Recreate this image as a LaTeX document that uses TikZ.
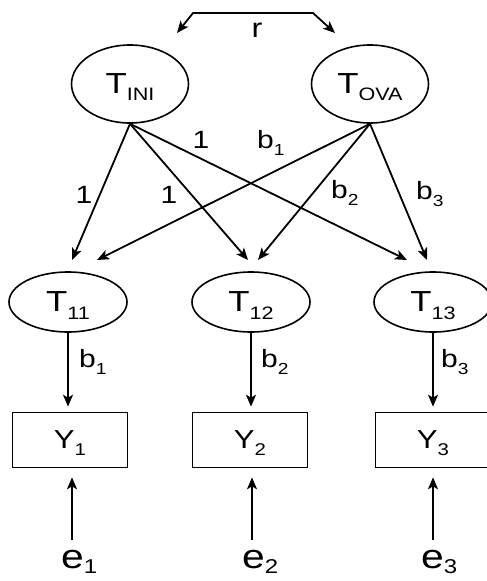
\documentclass[tikz,border=0pt]{standalone}
\usepackage{fontspec}
\setmainfont[FakeStretch=1.2]{Liberation Sans}
\usetikzlibrary{shapes.geometric,arrows.meta}
\newcommand\lowsub[3][7pt]{\smash{\raisebox{-#1}{\fontsize{#2}{#2}\selectfont #3}}}
\tikzset{
  lat/.style={draw, line width=1.6pt, ellipse, inner sep=0pt, font=\fontsize{29}{29}\selectfont},
  bigl/.style={lat, minimum width=117pt, minimum height=78pt},
  smalll/.style={lat, minimum width=118pt, minimum height=60pt},
  obs/.style={draw, line width=1.6pt, rectangle, inner sep=0pt, minimum width=115pt, minimum height=55pt, font=\fontsize{26}{26}\selectfont},
  arr/.style={line width=1.8pt, -{Stealth[length=12pt,width=10pt,inset=3pt]}},
  darr/.style={line width=1.8pt, {Stealth[length=12pt,width=10pt,inset=3pt]}-{Stealth[length=12pt,width=10pt,inset=3pt]}},
  lbl/.style={inner sep=0pt, font=\fontsize{25}{25}\selectfont},
  elbl/.style={inner sep=0pt, font=\fontsize{34}{34}\selectfont},
}
\begin{document}
\begin{tikzpicture}[x=1pt,y=-1pt]
\useasboundingbox (0,0) rectangle (487,581);
% latent nodes
\node[bigl] (tini) at (130,84) {T\lowsub{18}{INI}};
\node[bigl] (tova) at (370,84) {T\lowsub{18}{OVA}};
\node[smalll] (t11) at (68,302) {T\lowsub[8pt]{18}{11}};
\node[smalll] (t12) at (251,302) {T\lowsub[8pt]{18}{12}};
\node[smalll] (t13) at (433,302) {T\lowsub[8pt]{18}{13}};
% observed
\node[obs] (y1) at (70,440) {Y\lowsub{17}{1}};
\node[obs] (y2) at (250,440) {Y\lowsub{17}{2}};
\node[obs] (y3) at (433,440) {Y\lowsub{17}{3}};
% errors
\node[elbl, anchor=base west] (e1) at (61,568) {e\lowsub[5pt]{20}{1}};
\node[elbl, anchor=base west] (e2) at (242,568) {e\lowsub[5pt]{20}{2}};
\node[elbl, anchor=base west] (e3) at (421,568) {e\lowsub[5pt]{20}{3}};
% correlation arrow
\coordinate (ra) at (177,33);
\coordinate (rb) at (193,13);
\coordinate (rc) at (313,13);
\coordinate (rd) at (335,33);
\draw[darr] (ra) -- (rb) -- (rc) -- (rd);
\node[lbl, anchor=base, font=\fontsize{27}{27}\selectfont] (r) at (257,37) {r};
% arrow end points above lower latent nodes
\coordinate (a11) at (72,260);
\coordinate (b11) at (97,260);
\coordinate (a12) at (248,260);
\coordinate (b12) at (258,260);
\coordinate (a13) at (407,260);
\coordinate (b13) at (427,260);
\draw[arr] (tini.south) -- (a11);
\draw[arr] (tini.south) -- (a12);
\draw[arr] (tini.south) -- (a13);
\draw[arr] (tova.south) -- (b11);
\draw[arr] (tova.south) -- (b12);
\draw[arr] (tova.south) -- (b13);
% loadings labels
\node[lbl, anchor=base] (l1) at (84,203) {1};
\node[lbl, anchor=base] (l2) at (169,203) {1};
\node[lbl, anchor=base] (l3) at (201,148) {1};
\node[lbl, anchor=base west] (lb1) at (257,148) {b\lowsub{16}{1}};
\node[lbl, anchor=base west] (lb2) at (331,198) {b\lowsub{16}{2}};
\node[lbl, anchor=base west] (lb3) at (416,199) {b\lowsub{16}{3}};
% latent to observed
\draw[arr, shorten >=5pt] (t11.south) -- (t11.south |- y1.north);
\draw[arr, shorten >=5pt] (t12.south) -- (t12.south |- y2.north);
\draw[arr, shorten >=5pt] (t13.south) -- (t13.south |- y3.north);
\node[lbl, anchor=base west] (m1) at (79,367) {b\lowsub{16}{1}};
\node[lbl, anchor=base west] (m2) at (261,367) {b\lowsub{16}{2}};
\node[lbl, anchor=base west] (m3) at (441,367) {b\lowsub{16}{3}};
% errors to observed
\coordinate (f1) at (72,540);
\coordinate (f2) at (252,540);
\coordinate (f3) at (433,540);
\draw[arr, shorten >=9pt] (f1) -- (f1 |- y1.south);
\draw[arr, shorten >=9pt] (f2) -- (f2 |- y2.south);
\draw[arr, shorten >=9pt] (f3) -- (f3 |- y3.south);
\end{tikzpicture}
\end{document}
